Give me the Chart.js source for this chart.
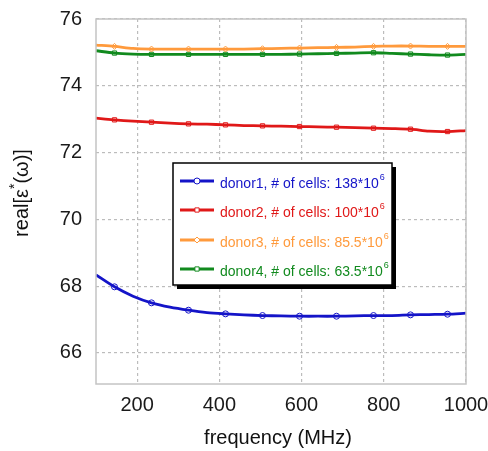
<!DOCTYPE html>
<html><head><meta charset="utf-8">
<script src="https://cdn.jsdelivr.net/npm/chart.js@4/dist/chart.umd.min.js"></script>
<style>html,body{margin:0;padding:0;background:#fff;overflow:hidden}canvas{display:block}</style>
</head><body><canvas id="c" width="488" height="451"></canvas>
<script>
const freq = [100,145,190,235,280,325,370,415,460,505,550,595,640,685,730,775,820,865,910,955,1000];
const donor1 = [68.34,67.98,67.70,67.50,67.37,67.28,67.21,67.17,67.14,67.12,67.11,67.10,67.10,67.10,67.11,67.12,67.12,67.14,67.15,67.16,67.19];
const donor2 = [73.03,72.98,72.94,72.91,72.88,72.86,72.85,72.83,72.81,72.80,72.79,72.78,72.77,72.76,72.75,72.73,72.72,72.70,72.64,72.63,72.66];
const donor3 = [75.22,75.18,75.12,75.10,75.10,75.10,75.10,75.10,75.10,75.11,75.12,75.13,75.14,75.15,75.16,75.18,75.19,75.19,75.18,75.18,75.18];
const donor4 = [75.05,74.98,74.95,74.94,74.94,74.94,74.94,74.94,74.94,74.94,74.94,74.95,74.96,74.97,74.98,74.99,74.97,74.95,74.93,74.92,74.94];
const xTicks = [200,400,600,800,1000];
const yTicks = [66,68,70,72,74,76];
const legendLabels = ["donor1, # of cells: 138*10","donor2, # of cells: 100*10","donor3, # of cells: 85.5*10","donor4, # of cells: 63.5*10"];
const legendSup = ["6","6","6","6"];
const colors = ["#1414c8","#e01818","#ff9a3c","#118a1e"];
const styles = ["circle","rect","rectRot","rect"];

const markerRadius = freq.map((f,i)=> i%2===1 ? 3 : 0);
function ds(label,data,i){
  return {label, data: freq.map((f,k)=>({x:f,y:data[k]})), borderColor: colors[i], borderWidth: 2.8,
    pointStyle: styles[i], pointRadius: markerRadius, pointBorderWidth: 1, pointBorderColor: colors[i],
    pointBackgroundColor: 'rgba(255,255,255,0)', tension: 0.3, fill:false};
}
const font = "'Liberation Sans', Arial, sans-serif";

const deco = {
  id:'deco',
  afterDraw(chart){
    const ctx = chart.ctx, a = chart.chartArea;
    ctx.save();
    ctx.strokeStyle = '#c4c4c4'; ctx.lineWidth = 1.5;
    ctx.strokeRect(a.left, a.top, a.right-a.left, a.bottom-a.top);
    ctx.fillStyle = '#111';
    ctx.font = "20px " + font;
    ctx.textAlign='center'; ctx.textBaseline='middle';
    ctx.fillText("frequency (MHz)", 278, 438);
    ctx.translate(22, 193); ctx.rotate(-Math.PI/2);
    const parts = [["real[ε",20,0],["*",14,-7],["(ω)]",20,0]];
    let tw = 0;
    parts.forEach(p=>{ctx.font = p[1]+"px "+font; tw += ctx.measureText(p[0]).width;});
    let x = -tw/2; ctx.textAlign='left';
    parts.forEach(p=>{ctx.font = p[1]+"px "+font; ctx.fillText(p[0], x, p[2]); x += ctx.measureText(p[0]).width;});
    ctx.restore();
    ctx.save();
    const L=173,T=163,R=392,B=285;
    ctx.fillStyle='#000'; ctx.fillRect(L+4,T+4,R-L,B-T);
    ctx.fillStyle='#fff'; ctx.fillRect(L,T,R-L,B-T);
    ctx.strokeStyle='#000'; ctx.lineWidth=1.5; ctx.strokeRect(L,T,R-L,B-T);
    const ys=[181,210,240,269];
    ys.forEach((y,i)=>{
      ctx.strokeStyle=colors[i]; ctx.lineWidth=2.8;
      ctx.beginPath(); ctx.moveTo(180,y); ctx.lineTo(214,y); ctx.stroke();
      ctx.lineWidth=1; ctx.fillStyle='#fff'; ctx.strokeStyle=colors[i];
      Chart.helpers.drawPoint(ctx,{pointStyle:styles[i],radius:3,rotation:0,borderWidth:1},197,y);
      ctx.fillStyle=colors[i]; ctx.font="14px "+font; ctx.textAlign='left'; ctx.textBaseline='middle';
      ctx.fillText(legendLabels[i],220,y+3);
      const w=ctx.measureText(legendLabels[i]).width;
      ctx.font="9px "+font; ctx.fillText(legendSup[i],220+w+1,y-3);
    });
    ctx.restore();
  }
};

new Chart(document.getElementById('c'),{
  type:'line',
  data:{datasets:[ds('donor1',donor1,0),ds('donor2',donor2,1),ds('donor3',donor3,2),ds('donor4',donor4,3)]},
  options:{
    responsive:false, animation:false, devicePixelRatio:1,
    layout:{padding:{top:19,right:22,left:0,bottom:0}},
    plugins:{legend:{display:false},tooltip:{enabled:false}},
    scales:{
      x:{type:'linear',min:100,max:1000,
        afterBuildTicks(s){s.ticks = xTicks.map(v=>({value:v}));},
        afterFit(s){s.height = 67; s.paddingRight = 0; s.paddingLeft = 0;},
        grid:{color:'#bcbcbc',lineWidth:1.2,drawTicks:false},
        border:{display:false,dash:[3,3]},
        ticks:{padding:9,color:'#1a1a1a',font:{family:font,size:20},maxRotation:0,callback:v=>String(v)}
      },
      y:{type:'linear',min:65.07,max:76,
        afterBuildTicks(s){s.ticks = yTicks.map(v=>({value:v}));},
        afterFit(s){s.width = 96; s.paddingTop = 0; s.paddingBottom = 0;},
        grid:{color:'#bcbcbc',lineWidth:1.2,drawTicks:false},
        border:{display:false,dash:[3,3]},
        ticks:{padding:14,color:'#1a1a1a',font:{family:font,size:20},callback:v=>String(v)}
      }
    }
  },
  plugins:[deco]
});
</script></body></html>
